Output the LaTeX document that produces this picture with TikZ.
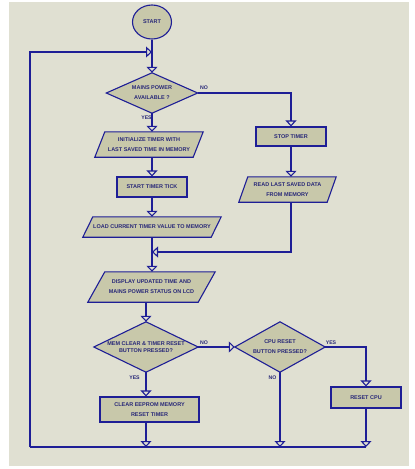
\documentclass[tikz,border=0pt]{standalone}
\usepackage{fontspec}
\setmainfont{Liberation Sans}
\usetikzlibrary{shapes.geometric,arrows.meta,backgrounds}
\definecolor{bgc}{RGB}{224,224,210}
\definecolor{shc}{RGB}{200,200,170}
\definecolor{lnc}{RGB}{30,30,150}
\definecolor{txc}{RGB}{40,40,120}
\begin{document}
\begin{tikzpicture}[x=1pt,y=-1pt,
  every node/.style={font=\bfseries\fontsize{5.5}{10}\selectfont, text=txc, align=center, inner sep=0pt},
  box/.style={rectangle, draw=lnc, fill=shc, line width=1.1pt},
  frame/.style={rectangle, draw=none},
  shp/.style={draw=lnc, fill=shc, line width=1.1pt},
  conn/.style={draw=lnc, line width=1.2pt},
  arr/.style={conn, -{Triangle[width=11pt,length=6pt,fill=bgc,line width=1.1pt]}},
  lbl/.style={font=\bfseries\fontsize{5.2}{6}\selectfont}
]
\useasboundingbox (0,0) rectangle (415,469);
\begin{scope}[on background layer]
  \fill[white] (0,0) rectangle (415,469);
  \fill[bgc] (9,2) rectangle (409,466);
\end{scope}

% nodes
\node[ellipse, draw=lnc, fill=shc, line width=1.1pt, minimum width=39pt, minimum height=34pt] (start) at (152,22) {START};
\node[frame, minimum width=91pt, minimum height=40pt] (d1) at (152,93) {MAINS POWER\\AVAILABLE ?};
\node[frame, minimum width=108pt, minimum height=25pt] (p1) at (149,144.5) {INITIALIZE TIMER WITH\\LAST SAVED TIME IN MEMORY};
\node[box, minimum width=70pt, minimum height=19pt] (stop) at (291,136.5) {STOP TIMER};
\node[box, minimum width=70pt, minimum height=20pt] (tick) at (152,187) {START TIMER TICK};
\node[frame, minimum width=97pt, minimum height=25pt] (read) at (287.5,189.5) {READ LAST SAVED DATA\\FROM MEMORY};
\node[frame, minimum width=138pt, minimum height=20pt] (load) at (152,227) {LOAD CURRENT TIMER VALUE TO MEMORY};
\node[frame, minimum width=127pt, minimum height=30pt] (disp) at (151.5,287) {DISPLAY UPDATED TIME AND\\MAINS POWER STATUS ON LCD};
\node[frame, minimum width=104pt, minimum height=50pt, font=\bfseries\fontsize{5.5}{7}\selectfont] (d2) at (146,347) {MEM CLEAR \& TIMER RESET\\BUTTON PRESSED?};
\node[frame, minimum width=90pt, minimum height=50pt] (d3) at (280,347) {CPU RESET\\BUTTON PRESSED?};
\node[box, minimum width=99pt, minimum height=25pt] (clear) at (149.5,409.5) {CLEAR EEPROM MEMORY\\RESET TIMER};
\node[box, minimum width=70pt, minimum height=21pt] (rcpu) at (366,397.5) {RESET CPU};

% shapes behind text
\begin{scope}[on background layer]
  \path[shp] (d1.north) -- (d1.east) -- (d1.south) -- (d1.west) -- cycle;
  \path[shp] (d2.north) -- (d2.east) -- (d2.south) -- (d2.west) -- cycle;
  \path[shp] (d3.north) -- (d3.east) -- (d3.south) -- (d3.west) -- cycle;
  \path[shp] ([xshift=10pt]p1.north west) -- (p1.north east) -- ([xshift=-10pt]p1.south east) -- (p1.south west) -- cycle;
  \path[shp] ([xshift=9pt]read.north west) -- (read.north east) -- ([xshift=-9pt]read.south east) -- (read.south west) -- cycle;
  \path[shp] ([xshift=10pt]load.north west) -- (load.north east) -- ([xshift=-10pt]load.south east) -- (load.south west) -- cycle;
  \path[shp] ([xshift=17pt]disp.north west) -- (disp.north east) -- ([xshift=-17pt]disp.south east) -- (disp.south west) -- cycle;
\end{scope}

% coordinates
\coordinate (lt) at (152,52);
\coordinate (m) at (152,252);
\coordinate (bl) at (30,447);

% connectors
\draw[arr] (start.south) -- (d1.north);
\draw[arr] (d1.south) -- (d1.south |- p1.north);
\draw[arr] (d1.east) -| (stop.north);
\draw[arr] (d1.south |- p1.south) -- (tick.north);
\draw[arr] (tick.south) -- (load.north);
\draw[arr] (stop.south) -- (stop.south |- read.north);
\draw[arr] (stop.south |- read.south) |- (m);
\draw[conn] (load.south) -- (m);
\draw[arr] (m) -- (m |- disp.north);
\draw[arr] (d2.north |- disp.south) -- (d2.north);
\draw[arr] (d2.east) -- (d3.west);
\draw[arr] (d2.south) -- (d2.south |- clear.north);
\draw[arr] (d3.east) -| (rcpu.north);
\draw[arr] (d2.south |- clear.south) -- (d2.south |- bl);
\draw[arr] (d3.south) -- (d3.south |- bl);
\draw[arr] (rcpu.south) -- (rcpu.south |- bl);
\draw[conn] (rcpu.south |- bl) -- (bl);
\draw[arr] (bl) |- (lt);

% labels
\node[lbl] (no1) at (204,88) {NO};
\node[lbl] (yes1) at (146.5,117.5) {YES};
\node[lbl] (no2) at (204,343) {NO};
\node[lbl] (yes3) at (331,343) {YES};
\node[lbl] (yes2) at (134.5,378) {YES};
\node[lbl] (no3) at (272.5,378) {NO};
\end{tikzpicture}
\end{document}
